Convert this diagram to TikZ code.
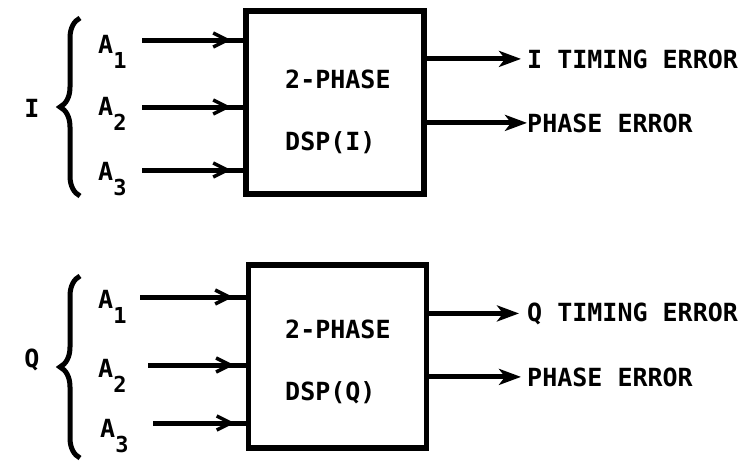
\documentclass[tikz,border=0pt]{standalone}
\usepackage{fontspec}
\setmainfont{DejaVu Sans Mono}
\usetikzlibrary{arrows.meta,decorations.pathreplacing,decorations.markings}
\tikzset{
  lbl/.style={font=\fontsize{25}{29}\selectfont\bfseries, inner sep=0pt},
  dspbox/.style={draw, line width=5.5pt, minimum width=178pt, minimum height=183pt, inner sep=0pt},
  inarrow/.style={line width=5pt, postaction={decorate}, decoration={markings, mark=at position 0.88 with {\arrow{Straight Barb[length=14pt,width=14pt,line width=3.5pt]}}}},
  outarrow/.style={line width=5pt, -{Stealth[length=22pt,width=16pt,inset=6pt]}},
  bracestyle/.style={line width=5pt, decorate, decoration={brace, amplitude=20pt}},
}
\newcommand{\Asub}[1]{A\raisebox{-0.6em}{\fontsize{22}{24}\selectfont\bfseries #1}}
\begin{document}
\begin{tikzpicture}[x=1pt,y=-1pt]
\useasboundingbox (0,0) rectangle (750,463);
% ---------- I channel ----------
\node[dspbox] (boxI) at (335,102.5) {};
\node[lbl, anchor=base west] (pI1) at (285,88) {2-PHASE};
\node[lbl, anchor=base west] (pI2) at (285,150) {DSP(I)};
\node[lbl, anchor=base] (I) at (32,117) {I};
\draw[bracestyle] (80,196) -- (80,18);
\coordinate (sI1) at (142,40);
\coordinate (sI2) at (142,107);
\coordinate (sI3) at (142,170);
\node[lbl, anchor=base west] (aI1) at (98,53) {\Asub{1}};
\node[lbl, anchor=base west] (aI2) at (98,115) {\Asub{2}};
\node[lbl, anchor=base west] (aI3) at (98,180) {\Asub{3}};
\draw[inarrow] (sI1) -- (sI1 -| boxI.west);
\draw[inarrow] (sI2) -- (sI2 -| boxI.west);
\draw[inarrow] (sI3) -- (sI3 -| boxI.west);
\node[lbl, anchor=base west] (tI) at (527,68) {I TIMING ERROR};
\node[lbl, anchor=base west] (phI) at (527,132) {PHASE ERROR};
\draw[outarrow] (boxI.east |- tI.west) -- ([xshift=-6pt]tI.west);
\draw[outarrow] (boxI.east |- phI.west) -- (phI.west);
% ---------- Q channel ----------
\node[dspbox] (boxQ) at (337.5,356.5) {};
\node[lbl, anchor=base west] (pQ1) at (285,338) {2-PHASE};
\node[lbl, anchor=base west] (pQ2) at (285,400) {DSP(Q)};
\node[lbl, anchor=base] (Q) at (32,367) {Q};
\draw[bracestyle] (80,458) -- (80,276);
\coordinate (sQ1) at (140,297);
\coordinate (sQ2) at (148,365);
\coordinate (sQ3) at (153,423);
\node[lbl, anchor=base west] (aQ1) at (98,308) {\Asub{1}};
\node[lbl, anchor=base west] (aQ2) at (98,377) {\Asub{2}};
\node[lbl, anchor=base west] (aQ3) at (100,437) {\Asub{3}};
\draw[inarrow] (sQ1) -- (sQ1 -| boxQ.west);
\draw[inarrow] (sQ2) -- (sQ2 -| boxQ.west);
\draw[inarrow] (sQ3) -- (sQ3 -| boxQ.west);
\node[lbl, anchor=base west] (tQ) at (527,321) {Q TIMING ERROR};
\node[lbl, anchor=base west] (phQ) at (527,386) {PHASE ERROR};
\draw[outarrow] (boxQ.east |- tQ.west) -- ([xshift=-8pt]tQ.west);
\draw[outarrow] (boxQ.east |- phQ.west) -- ([xshift=-6pt]phQ.west);
\end{tikzpicture}
\end{document}
